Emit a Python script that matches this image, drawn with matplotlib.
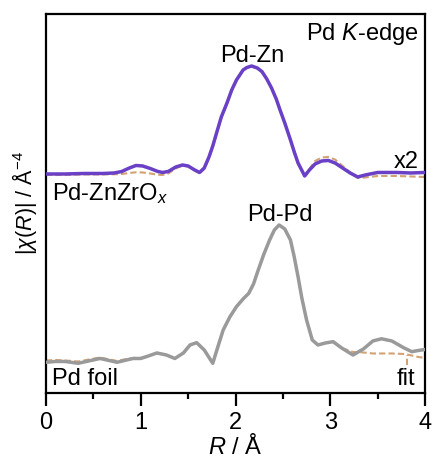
import matplotlib
matplotlib.use('Agg')
import matplotlib.pyplot as plt
from matplotlib.ticker import MultipleLocator
import numpy as np

plt.rcParams['font.family'] = ['Liberation Sans', 'DejaVu Sans']
plt.rcParams['mathtext.fontset'] = 'custom'
plt.rcParams['mathtext.rm'] = 'Liberation Sans'
plt.rcParams['mathtext.it'] = 'Liberation Sans:italic'

# Pd-ZnZrOx (x2), data and fit
r_znzr = [0.0, 0.2, 0.4, 0.6, 0.72, 0.8, 0.88, 0.95, 1.02, 1.1,
          1.18, 1.23, 1.29, 1.37, 1.44, 1.5, 1.56, 1.62, 1.67, 1.72,
          1.76, 1.80, 1.85, 1.91, 1.96, 2.01, 2.08, 2.12, 2.17, 2.23,
          2.28, 2.33, 2.38, 2.43, 2.47, 2.52, 2.58, 2.62, 2.66, 2.73,
          2.78, 2.84, 2.91, 2.98, 3.05, 3.13, 3.21, 3.29, 3.37, 3.5,
          3.7, 3.85, 4.0]
chi_znzr = [0, 0, 0.5, 0.5, 1, 2.5, 6, 8.5, 8, 5.5,
            2.5, 1.5, 2.5, 7, 9, 8, 4.5, 1.5, 6, 17,
            28, 41, 57, 71, 84, 94, 104, 106.5, 108, 106,
            102.3, 95, 86, 75, 64, 51, 34, 22, 11, -2,
            4, 10, 13, 13.5, 11, 6, 1, -3, -1, 1.5,
            1.5, 1, 1.5]
fit_znzr = [-1, -1, -0.5, -0.5, -0.3, 0, 1, 1.7, 1.5, 0.5,
            -0.8, -1, 0.5, 5.5, 8.5, 7.5, 4, 0.5, 5, 16,
            27, 40, 56, 70, 83, 93.5, 103.5, 106, 107.5, 105.5,
            102, 95, 86, 75, 64, 51, 34, 22, 11, -1.5,
            5, 13, 16.5, 17, 14.5, 8, 1.5, -4, -3.5, -2,
            -2, -2.5, -3]

# Pd foil, data and fit
r_foil = [0.0, 0.1, 0.2, 0.34, 0.57, 0.75, 0.85, 0.92, 1.0, 1.08,
          1.17, 1.27, 1.36, 1.45, 1.52, 1.59, 1.67, 1.76, 1.81, 1.87,
          1.94, 2.01, 2.08, 2.14, 2.19, 2.24, 2.30, 2.36, 2.41, 2.46,
          2.52, 2.58, 2.62, 2.66, 2.70, 2.75, 2.81, 2.87, 2.95, 3.03,
          3.12, 3.24, 3.35, 3.45, 3.54, 3.65, 3.78, 3.86, 3.93, 4.0]
chi_foil = [-0.3, 0.5, 0.5, -1.3, 3.5, -0.3, 2, 3.5, 3.5, 6,
            9, 7, 3.5, 9, 17, 19.3, 12, -1.3, 14, 32,
            45, 55.3, 63, 68.7, 78, 92, 108, 122, 132, 137,
            133, 122, 105, 85.3, 64, 42, 22, 17, 19, 20.3,
            14, 7, 13, 21, 23.2, 21, 14, 10.3, 11.5, 12.5]
fit_foil = [1.5, 2, 1.5, 0.5, 4.5, 1, 3, 4, 4, 6,
            9, 7, 3.5, 9, 17, 19.3, 12, -1.3, 14, 32,
            45, 55.3, 63, 68.7, 78, 92, 108, 122, 132, 137,
            133, 122, 105, 85.3, 64, 42, 22, 17, 19, 20.3,
            14, 10, 9.5, 8.5, 8.5, 8.5, 8, 6.5, 5, 4]

off_znzr = 219
off_foil = 31

fit_color = '#D2A273'

fig = plt.figure(figsize=(4.32, 4.66), dpi=100)
ax = fig.add_axes([0.1065, 0.1567, 0.8773, 0.8133])

ax.plot(r_znzr, np.array(fit_znzr) + off_znzr, color=fit_color, lw=1.5,
        ls=(0, (3, 1.5)), zorder=2)
ax.plot(r_znzr, np.array(chi_znzr) + off_znzr, color='#6A40C6', lw=2.5,
        solid_joinstyle='round', zorder=3)
ax.plot(r_foil, np.array(fit_foil) + off_foil, color=fit_color, lw=1.5,
        ls=(0, (3, 1.5)), zorder=2)
ax.plot(r_foil, np.array(chi_foil) + off_foil, color='#9A9A9A', lw=2.5,
        solid_joinstyle='round', zorder=3)

# short dashed leader from the fit curve down to its label
r_lead = 3.81
ax.vlines(r_lead, 28, np.interp(r_lead, r_foil, fit_foil) + off_foil,
          color=fit_color, lw=1.5, ls=(0, (3, 1.5)), zorder=2)

ax.set_xlim(0, 4)
ax.set_ylim(0, 379)
ax.xaxis.set_major_locator(MultipleLocator(1))
ax.xaxis.set_minor_locator(MultipleLocator(0.5))
ax.tick_params(axis='x', which='major', direction='out', length=9, width=1.6,
               labelsize=17, pad=5)
ax.tick_params(axis='x', which='minor', direction='out', length=4.5, width=1.6)
ax.set_yticks([])
for s in ax.spines.values():
    s.set_linewidth(1.6)

ax.set_xlabel('$R$ / Å', fontsize=17, labelpad=0)
ax.set_ylabel('$|\\chi(R)|$ / Å$^{-4}$', fontsize=15.5, labelpad=5)

fs = 17
ax.text(3.93, 353, 'Pd $K$-edge', ha='right', va='baseline', fontsize=fs)
ax.text(2.18, 330.7, 'Pd-Zn', ha='center', va='baseline', fontsize=fs)
ax.text(3.93, 224.7, 'x2', ha='right', va='baseline', fontsize=fs)
ax.text(0.065, 193, 'Pd-ZnZrO$_x$', ha='left', va='baseline', fontsize=fs)
ax.text(2.47, 172.3, 'Pd-Pd', ha='center', va='baseline', fontsize=fs)
ax.text(0.065, 8, 'Pd foil', ha='left', va='baseline', fontsize=fs)
ax.text(3.90, 8, 'fit', ha='right', va='baseline', fontsize=fs)

fig.savefig('out.png', dpi=100)
